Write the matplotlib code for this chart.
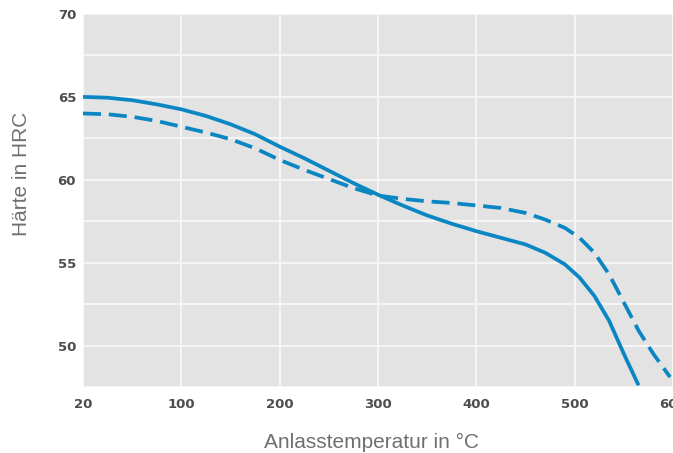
import numpy as np
import matplotlib
matplotlib.use("Agg")
import matplotlib.pyplot as plt

# Data
temp_solid = [20, 40, 60, 80, 100, 125, 150, 175, 200, 225, 250, 275, 300, 325, 350,
              375, 400, 425, 450, 470, 490, 505, 520, 535, 550, 565]
hrc_solid = [65.0, 64.95, 64.8, 64.55, 64.25, 63.85, 63.35, 62.75, 62.0, 61.3, 60.55,
             59.8, 59.1, 58.45, 57.85, 57.35, 56.9, 56.5, 56.1, 55.6, 54.9, 54.1, 53.0,
             51.5, 49.5, 47.6]

temp_dashed = [20, 40, 60, 80, 100, 125, 150, 175, 200, 225, 250, 275, 300, 325, 350,
               375, 400, 425, 450, 470, 490, 505, 520, 535, 550, 565, 580, 597]
hrc_dashed = [64.0, 63.95, 63.8, 63.55, 63.2, 62.85, 62.45, 61.9, 61.2, 60.6, 60.05,
              59.5, 59.05, 58.85, 58.7, 58.6, 58.45, 58.3, 58.0, 57.6, 57.1, 56.5, 55.6,
              54.3, 52.6, 50.9, 49.5, 48.1]

x_ticks = [20, 100, 200, 300, 400, 500, 600]
x_ticklabels = ["20", "100", "200", "300", "400", "500", "600"]
y_ticks = [50, 55, 60, 65, 70]
y_ticklabels = ["50", "55", "60", "65", "70"]
x_label = "Anlasstemperatur in °C"
y_label = "Härte in HRC"

blue = "#0a86c3"


# The reference axis places 20 at the left edge; 20..100 is stretched
def fwd(x):
    x = np.asarray(x, dtype=float)
    return np.where(x < 100, (x - 20) * 1.25, x)


def inv(y):
    y = np.asarray(y, dtype=float)
    return np.where(y < 100, y / 1.25 + 20, y)


W, H = 673, 453
fig = plt.figure(figsize=(W / 100, H / 100), dpi=100)
ax = fig.add_axes([83 / W, 1 - 387 / H, (673 - 83) / W, (387 - 14) / H])
ax.set_xscale("function", functions=(fwd, inv))
ax.set_facecolor("#e3e3e3")
for s in ax.spines.values():
    s.set_visible(False)

ax.set_xlim(20, 597)
ax.set_ylim(47.57, 70)

ax.set_xticks(x_ticks)
ax.set_xticklabels(x_ticklabels)
ax.set_yticks(y_ticks)
ax.set_yticklabels(y_ticklabels)
ax.set_yticks(np.arange(47.5, 70.1, 2.5), minor=True)
ax.xaxis.set_minor_locator(matplotlib.ticker.NullLocator())

ax.grid(True, which="major", axis="x", color="#f7f7f7", linewidth=1.3)
ax.grid(True, which="both", axis="y", color="#f7f7f7", linewidth=1.3)
ax.set_axisbelow(True)

ax.tick_params(axis="both", which="both", length=0)
ax.tick_params(axis="x", pad=8)
ax.tick_params(axis="y", pad=5)
for lab in ax.get_xticklabels() + ax.get_yticklabels():
    lab.set_fontweight("bold")
    lab.set_fontsize(9.5)
    lab.set_color("#4d4d4d")

ax.plot(temp_solid, hrc_solid, color=blue, linewidth=2.7, solid_capstyle="butt",
        solid_joinstyle="round", clip_on=True)
ax.plot(temp_dashed, hrc_dashed, color=blue, linewidth=2.7, dashes=(4.8, 2.1),
        dash_capstyle="butt", dash_joinstyle="round", clip_on=True)

fig.text(371 / W, 1 - 442 / H, x_label, ha="center", va="center",
         fontsize=15, color="#707070", family=["Liberation Sans", "DejaVu Sans"])
fig.text(22 / W, 1 - 174 / H, y_label, ha="center", va="center", rotation=90,
         fontsize=15, color="#707070", family=["Liberation Sans", "DejaVu Sans"])

fig.savefig("out.png", dpi=100, facecolor="white")
